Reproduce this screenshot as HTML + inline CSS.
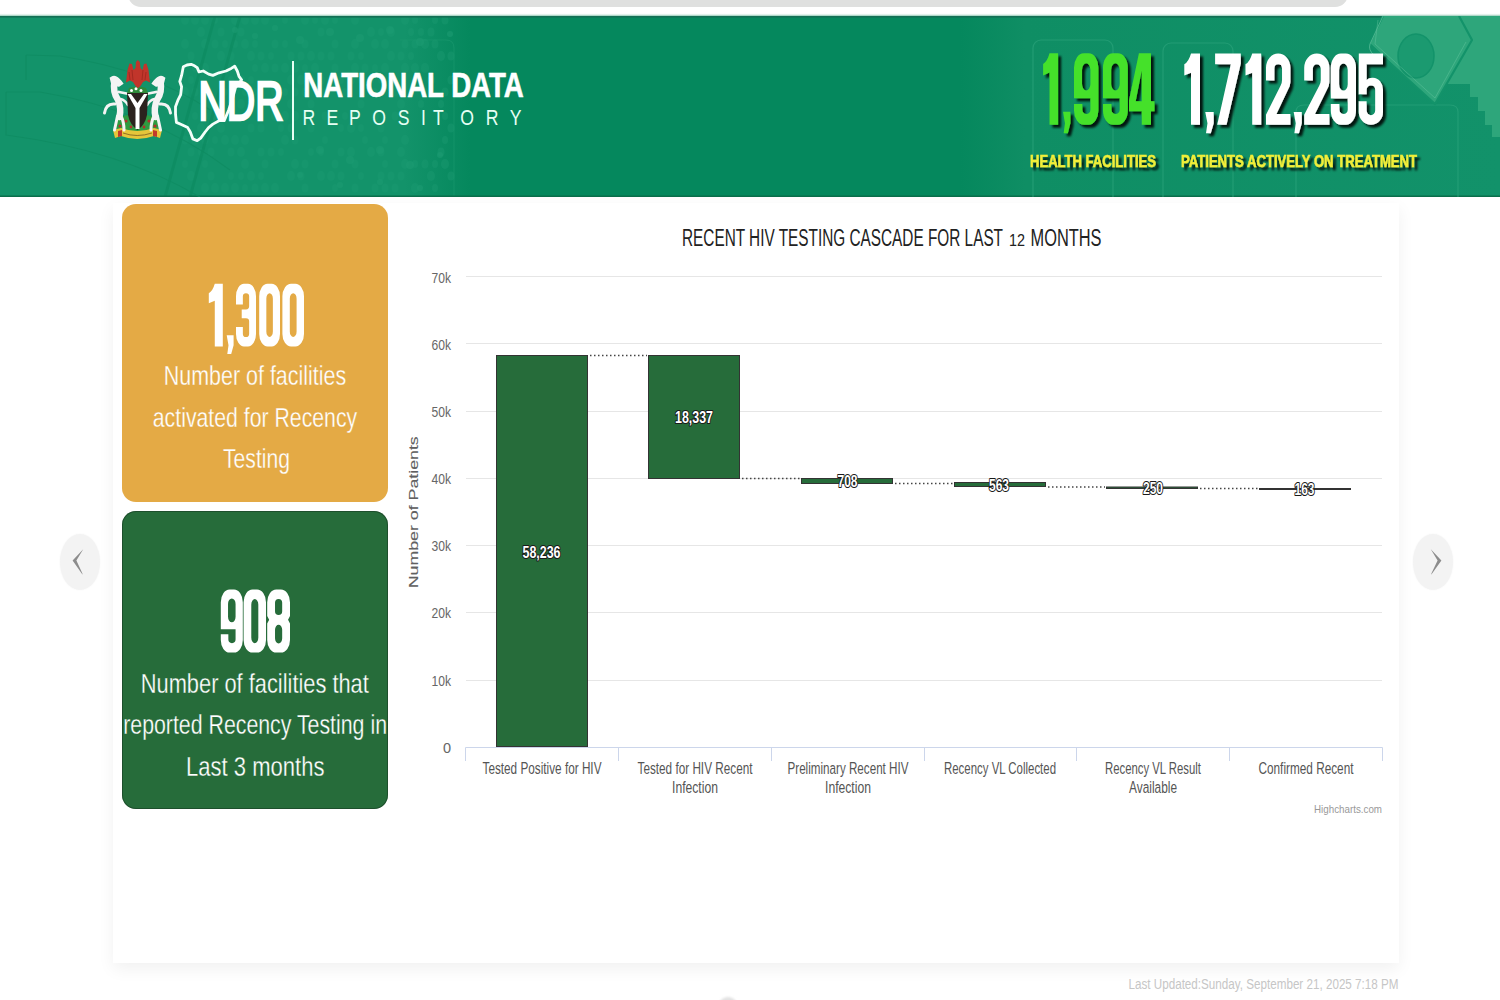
<!DOCTYPE html>
<html>
<head>
<meta charset="utf-8">
<style>
html,body{margin:0;padding:0;width:1500px;height:1000px;overflow:hidden;background:#ffffff;font-family:"Liberation Sans",sans-serif;}
.abs{position:absolute;}
#topbar{left:128px;top:-10px;width:1220px;height:17px;background:#dfe0df;border-radius:0 0 13px 13px;}
#header{left:0;top:17px;width:1500px;height:180px;background:#0c8d62;}
#panel{left:113px;top:203px;width:1286px;height:760px;background:#ffffff;box-shadow:0 6px 16px rgba(0,0,0,0.06);}
.card{position:absolute;left:122px;width:266px;border-radius:14px;}
#card1{top:204px;height:298px;background:#e4aa45;}
#card2{top:511px;height:298px;background:#266c3a;box-shadow:inset 0 0 0 1px rgba(20,50,30,0.5);}
.chev{position:absolute;width:40px;height:56px;border-radius:50%;background:#f3f3f3;box-shadow:0 0 2px #f3f3f3;}
svg{position:absolute;left:0;top:0;}
</style>
</head>
<body>
<div id="topbar" class="abs"></div>
<div id="header" class="abs"></div>
<div id="panel" class="abs"></div>
<div id="card1" class="card"></div>
<div id="card2" class="card"></div>
<div class="chev" style="left:60px;top:534px;"></div>
<div class="chev" style="left:1413px;top:534px;"></div>

<svg width="1500" height="1000" viewBox="0 0 1500 1000" font-family="Liberation Sans, sans-serif">
  <!-- header background overlays -->
  <defs>
    <linearGradient id="hg" x1="0" y1="0" x2="1" y2="0">
      <stop offset="0" stop-color="#14946a"/>
      <stop offset="0.36" stop-color="#14946a"/>
      <stop offset="0.42" stop-color="#098a5e"/>
      <stop offset="0.66" stop-color="#098a5e"/>
      <stop offset="0.72" stop-color="#11916a"/>
      <stop offset="1" stop-color="#14946a"/>
    </linearGradient>
    <filter id="shd" x="-10%" y="-10%" width="130%" height="140%">
      <feGaussianBlur in="SourceAlpha" stdDeviation="0.8"/>
      <feOffset dx="3" dy="3" result="o"/>
      <feComponentTransfer><feFuncA type="linear" slope="0.85"/></feComponentTransfer>
      <feMerge><feMergeNode/><feMergeNode in="SourceGraphic"/></feMerge>
    </filter>
  </defs>
  <clipPath id="hclip"><rect x="0" y="16" width="1500" height="181"/></clipPath>
  <linearGradient id="tsh" x1="0" y1="0" x2="0" y2="1"><stop offset="0" stop-color="#ffffff" stop-opacity="0"/><stop offset="1" stop-color="#8cc7b1"/></linearGradient>
  <rect x="0" y="13" width="1500" height="3" fill="url(#tsh)"/>
  <g clip-path="url(#hclip)">
  <rect x="0" y="16" width="1500" height="181" fill="#05885d"/>
  <linearGradient id="lg1" x1="0" y1="0" x2="1" y2="0"><stop offset="0" stop-color="#13936a"/><stop offset="0.86" stop-color="#13936a"/><stop offset="1" stop-color="#13936a" stop-opacity="0"/></linearGradient>
  <rect x="0" y="16" width="470" height="181" fill="url(#lg1)"/>
  <path d="M454 197 L454 48 Q454 40 446 40 L400 40" fill="none" stroke="#1c9a70" stroke-width="1" opacity="0.6"/>
  <linearGradient id="lg2" x1="0" y1="0" x2="1" y2="0"><stop offset="0" stop-color="#0e8d63" stop-opacity="0"/><stop offset="0.12" stop-color="#0f8e64"/><stop offset="1" stop-color="#12926a"/></linearGradient>
  <rect x="960" y="16" width="540" height="181" fill="url(#lg2)"/>
  <g fill="#1b9a71" opacity="0.45"><ellipse cx="185" cy="20" rx="4" ry="5"/><ellipse cx="195" cy="20" rx="4" ry="5"/><ellipse cx="205" cy="20" rx="4" ry="5"/><ellipse cx="215" cy="20" rx="3" ry="4"/><ellipse cx="235" cy="20" rx="4" ry="5"/><ellipse cx="245" cy="20" rx="4" ry="5"/><ellipse cx="255" cy="20" rx="4" ry="5"/><ellipse cx="265" cy="20" rx="4" ry="5"/><ellipse cx="285" cy="20" rx="3" ry="4"/><ellipse cx="305" cy="20" rx="4" ry="5"/><ellipse cx="315" cy="20" rx="3" ry="4"/><ellipse cx="325" cy="20" rx="4" ry="5"/><ellipse cx="335" cy="20" rx="3" ry="4"/><ellipse cx="355" cy="20" rx="4" ry="5"/><ellipse cx="405" cy="20" rx="4" ry="5"/><ellipse cx="415" cy="20" rx="3" ry="4"/><ellipse cx="435" cy="20" rx="3" ry="4"/><ellipse cx="445" cy="20" rx="3.5" ry="4.5"/><ellipse cx="201" cy="32" rx="4" ry="5"/><ellipse cx="221" cy="32" rx="3.5" ry="4.5"/><ellipse cx="241" cy="32" rx="3.5" ry="4.5"/><ellipse cx="321" cy="32" rx="3.5" ry="4.5"/><ellipse cx="371" cy="32" rx="4" ry="5"/><ellipse cx="381" cy="32" rx="3" ry="4"/><ellipse cx="391" cy="32" rx="4" ry="5"/><ellipse cx="411" cy="32" rx="3" ry="4"/><ellipse cx="421" cy="32" rx="3" ry="4"/><ellipse cx="431" cy="32" rx="3.5" ry="4.5"/><ellipse cx="185" cy="44" rx="4" ry="5"/><ellipse cx="205" cy="44" rx="4" ry="5"/><ellipse cx="215" cy="44" rx="3.5" ry="4.5"/><ellipse cx="225" cy="44" rx="3" ry="4"/><ellipse cx="235" cy="44" rx="3" ry="4"/><ellipse cx="245" cy="44" rx="4" ry="5"/><ellipse cx="255" cy="44" rx="3" ry="4"/><ellipse cx="275" cy="44" rx="3.5" ry="4.5"/><ellipse cx="285" cy="44" rx="3" ry="4"/><ellipse cx="305" cy="44" rx="3.5" ry="4.5"/><ellipse cx="335" cy="44" rx="3.5" ry="4.5"/><ellipse cx="355" cy="44" rx="4" ry="5"/><ellipse cx="375" cy="44" rx="4" ry="5"/><ellipse cx="385" cy="44" rx="4" ry="5"/><ellipse cx="405" cy="44" rx="3.5" ry="4.5"/><ellipse cx="415" cy="44" rx="3.5" ry="4.5"/><ellipse cx="425" cy="44" rx="4" ry="5"/><ellipse cx="435" cy="44" rx="3.5" ry="4.5"/><ellipse cx="191" cy="56" rx="3.5" ry="4.5"/><ellipse cx="221" cy="56" rx="4" ry="5"/><ellipse cx="231" cy="56" rx="3.5" ry="4.5"/><ellipse cx="251" cy="56" rx="4" ry="5"/><ellipse cx="261" cy="56" rx="3.5" ry="4.5"/><ellipse cx="271" cy="56" rx="3" ry="4"/><ellipse cx="291" cy="56" rx="3.5" ry="4.5"/><ellipse cx="301" cy="56" rx="3.5" ry="4.5"/><ellipse cx="311" cy="56" rx="4" ry="5"/><ellipse cx="321" cy="56" rx="3.5" ry="4.5"/><ellipse cx="331" cy="56" rx="3.5" ry="4.5"/><ellipse cx="351" cy="56" rx="3.5" ry="4.5"/><ellipse cx="361" cy="56" rx="3" ry="4"/><ellipse cx="391" cy="56" rx="4" ry="5"/><ellipse cx="401" cy="56" rx="3.5" ry="4.5"/><ellipse cx="411" cy="56" rx="3" ry="4"/><ellipse cx="441" cy="56" rx="4" ry="5"/><ellipse cx="451" cy="56" rx="3.5" ry="4.5"/><ellipse cx="195" cy="68" rx="3" ry="4"/><ellipse cx="205" cy="68" rx="4" ry="5"/><ellipse cx="235" cy="68" rx="3" ry="4"/><ellipse cx="255" cy="68" rx="3" ry="4"/><ellipse cx="265" cy="68" rx="4" ry="5"/><ellipse cx="275" cy="68" rx="3.5" ry="4.5"/><ellipse cx="285" cy="68" rx="4" ry="5"/><ellipse cx="295" cy="68" rx="4" ry="5"/><ellipse cx="305" cy="68" rx="3" ry="4"/><ellipse cx="315" cy="68" rx="4" ry="5"/><ellipse cx="335" cy="68" rx="3.5" ry="4.5"/><ellipse cx="355" cy="68" rx="4" ry="5"/><ellipse cx="365" cy="68" rx="3.5" ry="4.5"/><ellipse cx="375" cy="68" rx="3" ry="4"/><ellipse cx="385" cy="68" rx="4" ry="5"/><ellipse cx="405" cy="68" rx="4" ry="5"/><ellipse cx="415" cy="68" rx="4" ry="5"/><ellipse cx="425" cy="68" rx="4" ry="5"/><ellipse cx="191" cy="80" rx="3" ry="4"/><ellipse cx="231" cy="80" rx="3" ry="4"/><ellipse cx="241" cy="80" rx="4" ry="5"/><ellipse cx="251" cy="80" rx="3" ry="4"/><ellipse cx="291" cy="80" rx="4" ry="5"/><ellipse cx="301" cy="80" rx="4" ry="5"/><ellipse cx="311" cy="80" rx="4" ry="5"/><ellipse cx="321" cy="80" rx="4" ry="5"/><ellipse cx="331" cy="80" rx="4" ry="5"/><ellipse cx="341" cy="80" rx="3" ry="4"/><ellipse cx="351" cy="80" rx="4" ry="5"/><ellipse cx="361" cy="80" rx="3" ry="4"/><ellipse cx="371" cy="80" rx="3" ry="4"/><ellipse cx="381" cy="80" rx="3" ry="4"/><ellipse cx="391" cy="80" rx="3.5" ry="4.5"/><ellipse cx="431" cy="80" rx="4" ry="5"/><ellipse cx="451" cy="80" rx="3.5" ry="4.5"/><ellipse cx="185" cy="92" rx="4" ry="5"/><ellipse cx="195" cy="92" rx="3.5" ry="4.5"/><ellipse cx="205" cy="92" rx="3.5" ry="4.5"/><ellipse cx="225" cy="92" rx="3" ry="4"/><ellipse cx="245" cy="92" rx="3" ry="4"/><ellipse cx="255" cy="92" rx="3" ry="4"/><ellipse cx="275" cy="92" rx="4" ry="5"/><ellipse cx="285" cy="92" rx="3" ry="4"/><ellipse cx="295" cy="92" rx="3.5" ry="4.5"/><ellipse cx="305" cy="92" rx="3.5" ry="4.5"/><ellipse cx="325" cy="92" rx="3" ry="4"/><ellipse cx="345" cy="92" rx="3" ry="4"/><ellipse cx="375" cy="92" rx="3" ry="4"/><ellipse cx="395" cy="92" rx="3.5" ry="4.5"/><ellipse cx="425" cy="92" rx="3" ry="4"/><ellipse cx="445" cy="92" rx="3.5" ry="4.5"/><ellipse cx="211" cy="104" rx="4" ry="5"/><ellipse cx="221" cy="104" rx="3" ry="4"/><ellipse cx="231" cy="104" rx="4" ry="5"/><ellipse cx="241" cy="104" rx="4" ry="5"/><ellipse cx="251" cy="104" rx="3.5" ry="4.5"/><ellipse cx="261" cy="104" rx="3" ry="4"/><ellipse cx="291" cy="104" rx="4" ry="5"/><ellipse cx="311" cy="104" rx="3.5" ry="4.5"/><ellipse cx="361" cy="104" rx="3.5" ry="4.5"/><ellipse cx="401" cy="104" rx="4" ry="5"/><ellipse cx="421" cy="104" rx="3" ry="4"/><ellipse cx="441" cy="104" rx="3" ry="4"/><ellipse cx="195" cy="116" rx="3" ry="4"/><ellipse cx="205" cy="116" rx="3" ry="4"/><ellipse cx="215" cy="116" rx="3" ry="4"/><ellipse cx="275" cy="116" rx="4" ry="5"/><ellipse cx="285" cy="116" rx="4" ry="5"/><ellipse cx="295" cy="116" rx="4" ry="5"/><ellipse cx="325" cy="116" rx="3.5" ry="4.5"/><ellipse cx="345" cy="116" rx="3" ry="4"/><ellipse cx="355" cy="116" rx="3" ry="4"/><ellipse cx="375" cy="116" rx="4" ry="5"/><ellipse cx="395" cy="116" rx="3.5" ry="4.5"/><ellipse cx="445" cy="116" rx="3" ry="4"/><ellipse cx="201" cy="128" rx="4" ry="5"/><ellipse cx="221" cy="128" rx="4" ry="5"/><ellipse cx="251" cy="128" rx="3.5" ry="4.5"/><ellipse cx="261" cy="128" rx="3.5" ry="4.5"/><ellipse cx="281" cy="128" rx="3" ry="4"/><ellipse cx="291" cy="128" rx="3.5" ry="4.5"/><ellipse cx="311" cy="128" rx="3.5" ry="4.5"/><ellipse cx="341" cy="128" rx="3" ry="4"/><ellipse cx="351" cy="128" rx="4" ry="5"/><ellipse cx="361" cy="128" rx="3" ry="4"/><ellipse cx="381" cy="128" rx="3.5" ry="4.5"/><ellipse cx="451" cy="128" rx="3.5" ry="4.5"/><ellipse cx="185" cy="140" rx="3.5" ry="4.5"/><ellipse cx="195" cy="140" rx="4" ry="5"/><ellipse cx="205" cy="140" rx="3.5" ry="4.5"/><ellipse cx="215" cy="140" rx="3" ry="4"/><ellipse cx="225" cy="140" rx="4" ry="5"/><ellipse cx="235" cy="140" rx="4" ry="5"/><ellipse cx="245" cy="140" rx="4" ry="5"/><ellipse cx="285" cy="140" rx="4" ry="5"/><ellipse cx="295" cy="140" rx="3.5" ry="4.5"/><ellipse cx="325" cy="140" rx="3" ry="4"/><ellipse cx="365" cy="140" rx="3" ry="4"/><ellipse cx="385" cy="140" rx="3" ry="4"/><ellipse cx="405" cy="140" rx="4" ry="5"/><ellipse cx="445" cy="140" rx="3" ry="4"/><ellipse cx="191" cy="152" rx="3.5" ry="4.5"/><ellipse cx="201" cy="152" rx="3" ry="4"/><ellipse cx="211" cy="152" rx="3.5" ry="4.5"/><ellipse cx="231" cy="152" rx="3.5" ry="4.5"/><ellipse cx="241" cy="152" rx="4" ry="5"/><ellipse cx="261" cy="152" rx="3.5" ry="4.5"/><ellipse cx="271" cy="152" rx="3.5" ry="4.5"/><ellipse cx="281" cy="152" rx="3" ry="4"/><ellipse cx="311" cy="152" rx="3" ry="4"/><ellipse cx="321" cy="152" rx="3" ry="4"/><ellipse cx="341" cy="152" rx="3.5" ry="4.5"/><ellipse cx="351" cy="152" rx="4" ry="5"/><ellipse cx="371" cy="152" rx="4" ry="5"/><ellipse cx="381" cy="152" rx="3.5" ry="4.5"/><ellipse cx="401" cy="152" rx="4" ry="5"/><ellipse cx="441" cy="152" rx="3.5" ry="4.5"/><ellipse cx="185" cy="164" rx="3" ry="4"/><ellipse cx="205" cy="164" rx="3" ry="4"/><ellipse cx="245" cy="164" rx="4" ry="5"/><ellipse cx="265" cy="164" rx="3.5" ry="4.5"/><ellipse cx="295" cy="164" rx="4" ry="5"/><ellipse cx="305" cy="164" rx="3.5" ry="4.5"/><ellipse cx="335" cy="164" rx="3.5" ry="4.5"/><ellipse cx="355" cy="164" rx="3.5" ry="4.5"/><ellipse cx="385" cy="164" rx="3" ry="4"/><ellipse cx="405" cy="164" rx="4" ry="5"/><ellipse cx="415" cy="164" rx="3" ry="4"/><ellipse cx="425" cy="164" rx="3.5" ry="4.5"/><ellipse cx="435" cy="164" rx="3" ry="4"/><ellipse cx="445" cy="164" rx="4" ry="5"/><ellipse cx="191" cy="176" rx="4" ry="5"/><ellipse cx="211" cy="176" rx="3.5" ry="4.5"/><ellipse cx="231" cy="176" rx="3" ry="4"/><ellipse cx="241" cy="176" rx="3" ry="4"/><ellipse cx="251" cy="176" rx="4" ry="5"/><ellipse cx="261" cy="176" rx="3" ry="4"/><ellipse cx="291" cy="176" rx="4" ry="5"/><ellipse cx="301" cy="176" rx="3.5" ry="4.5"/><ellipse cx="321" cy="176" rx="4" ry="5"/><ellipse cx="331" cy="176" rx="4" ry="5"/><ellipse cx="341" cy="176" rx="3.5" ry="4.5"/><ellipse cx="361" cy="176" rx="3" ry="4"/><ellipse cx="381" cy="176" rx="3.5" ry="4.5"/><ellipse cx="391" cy="176" rx="3.5" ry="4.5"/><ellipse cx="401" cy="176" rx="3.5" ry="4.5"/><ellipse cx="431" cy="176" rx="4" ry="5"/><ellipse cx="451" cy="176" rx="3.5" ry="4.5"/><ellipse cx="205" cy="188" rx="4" ry="5"/><ellipse cx="215" cy="188" rx="4" ry="5"/><ellipse cx="225" cy="188" rx="4" ry="5"/><ellipse cx="235" cy="188" rx="4" ry="5"/><ellipse cx="245" cy="188" rx="3" ry="4"/><ellipse cx="255" cy="188" rx="3.5" ry="4.5"/><ellipse cx="265" cy="188" rx="4" ry="5"/><ellipse cx="275" cy="188" rx="4" ry="5"/><ellipse cx="305" cy="188" rx="3.5" ry="4.5"/><ellipse cx="335" cy="188" rx="3" ry="4"/><ellipse cx="355" cy="188" rx="3.5" ry="4.5"/><ellipse cx="375" cy="188" rx="3.5" ry="4.5"/><ellipse cx="385" cy="188" rx="3.5" ry="4.5"/><ellipse cx="395" cy="188" rx="3.5" ry="4.5"/><ellipse cx="415" cy="188" rx="4" ry="5"/><ellipse cx="435" cy="188" rx="3" ry="4"/><ellipse cx="191" cy="200" rx="3" ry="4"/><ellipse cx="221" cy="200" rx="3" ry="4"/><ellipse cx="231" cy="200" rx="3" ry="4"/><ellipse cx="251" cy="200" rx="3" ry="4"/><ellipse cx="271" cy="200" rx="3.5" ry="4.5"/><ellipse cx="291" cy="200" rx="3.5" ry="4.5"/><ellipse cx="301" cy="200" rx="3.5" ry="4.5"/><ellipse cx="311" cy="200" rx="3.5" ry="4.5"/><ellipse cx="321" cy="200" rx="4" ry="5"/><ellipse cx="331" cy="200" rx="3" ry="4"/><ellipse cx="341" cy="200" rx="3" ry="4"/><ellipse cx="361" cy="200" rx="3.5" ry="4.5"/><ellipse cx="371" cy="200" rx="3.5" ry="4.5"/><ellipse cx="391" cy="200" rx="3" ry="4"/><ellipse cx="411" cy="200" rx="3.5" ry="4.5"/><ellipse cx="421" cy="200" rx="3.5" ry="4.5"/><ellipse cx="431" cy="200" rx="3" ry="4"/><ellipse cx="441" cy="200" rx="3" ry="4"/></g>
  <g stroke="#0c8a5f" stroke-width="3" opacity="0.6">
    <line x1="215" y1="16" x2="165" y2="197"/><line x1="240" y1="16" x2="190" y2="197"/>
  </g>
  <rect x="0" y="195.5" width="1500" height="1.5" fill="#0a6e4b"/>
  <rect x="0" y="16" width="1500" height="1.6" fill="#137055"/>
  <!-- faint arcs left -->
  <g fill="none" stroke="#0f8c62" stroke-width="1.2" opacity="0.8">
    <path d="M26 55 L60 56 Q150 70 210 110"/>
    <path d="M6 92 L40 92 Q150 110 230 170"/>
    <path d="M6 92 L6 135 Q120 150 200 197"/>
    <path d="M26 55 L26 80"/>
  </g>
  <!-- faint dotted texture region -->
  <g fill="#1c9b72" opacity="0.6">
    <circle cx="235" cy="30" r="3"/><circle cx="255" cy="36" r="3"/><circle cx="275" cy="28" r="3"/>
    <circle cx="300" cy="40" r="4"/><circle cx="330" cy="32" r="4"/><circle cx="360" cy="38" r="4"/>
    <circle cx="390" cy="30" r="4"/><circle cx="420" cy="42" r="4"/><circle cx="450" cy="34" r="3"/>
    <circle cx="320" cy="150" r="4"/><circle cx="350" cy="160" r="4"/><circle cx="380" cy="150" r="4"/>
    <circle cx="410" cy="165" r="4"/><circle cx="440" cy="155" r="3"/><circle cx="300" cy="175" r="3"/>
    <circle cx="340" cy="185" r="3"/><circle cx="380" cy="182" r="3"/><circle cx="420" cy="188" r="3"/>
  </g>
  <g fill="none" stroke="#2aa27a" stroke-width="1.2" opacity="0.7">
    
    <rect x="1033" y="40" width="80" height="170" rx="8"/>
    <rect x="1163" y="43" width="70" height="170" rx="8"/>
    <path d="M1296 200 L1296 112 Q1296 105 1304 105 L1450 105 Q1458 105 1458 112 L1458 200"/>
  </g>
  <!-- top-right lighter shape -->
  <path d="M1383 16 L1500 16 L1500 137 L1492 137 L1492 125 L1485 125 L1485 111 L1478 111 L1478 97 L1470 97 L1470 84 L1447 84 L1435 104 L1370 43 Z" fill="#2ea67b"/>
  <ellipse cx="1416" cy="56" rx="18" ry="22" fill="#1b9a70" stroke="#13936a" stroke-width="1.5"/>
  <path d="M1383 16 L1369 44 L1435 104 L1472 40 L1459 16" fill="none" stroke="#13936a" stroke-width="2.2" stroke-linejoin="round"/>
  <path d="M1378 20 L1375 44 L1435 98 L1466 42" fill="none" stroke="#6fcaa6" stroke-width="0.8" opacity="0.5"/>
  <path d="M1383 16 L1370 44 Q1368 50 1374 55" fill="none" stroke="#6fcaa6" stroke-width="1" opacity="0.6"/>
  </g>

  <!-- coat of arms -->
  <g id="coa">
    <!-- green base -->
    <path d="M116 120 Q126 113 137 116 Q148 113 159 120 L158 132 Q137 137 117 132 Z" fill="#2e9b40"/>
    <g fill="#b3302b"><circle cx="120" cy="126" r="1.6"/><circle cx="126" cy="121" r="1.6"/><circle cx="149" cy="121" r="1.6"/><circle cx="155" cy="126" r="1.6"/><circle cx="131" cy="127" r="1.4"/><circle cx="144" cy="127" r="1.4"/></g>
    <!-- banner -->
    <path d="M113 130 L121 128 Q137 134 154 128 L162 130 L160 138 L154 136 Q137 142 121 136 L115 138 Z" fill="#e6c53a"/>
    <path d="M118 131 L122 130 L122 136 L118 137 Z M153 130 L157 131 L157 137 L153 136 Z" fill="#c23a2c"/>
    <path d="M123 133 Q137 138 152 133" stroke="#7a5a20" stroke-width="0.8" fill="none"/>
    <!-- horses -->
    <g stroke="#f4f4f4" fill="none" stroke-linecap="round">
      <path d="M110.5 78 Q116 73.5 122.5 83.5 L119 86 Q115 85 113 88 Z" fill="#f4f4f4" stroke-width="1.6"/>
      <path d="M114.5 81 Q112.5 92 118 100 Q121.5 108 119.5 117" stroke-width="6.5"/>
      <path d="M119 92 L129 94" stroke-width="2.8"/>
      <path d="M120.5 99 Q125 100 128 105" stroke-width="2.6"/>
      <path d="M117.5 116 L114.5 130" stroke-width="3"/>
      <path d="M121 116 Q124 122 124 130" stroke-width="3"/>
      <path d="M115 104 Q106 103 104.5 113" stroke-width="3"/>
    </g>
    <g transform="translate(275,0) scale(-1,1)"><g stroke="#f4f4f4" fill="none" stroke-linecap="round">
      <path d="M110.5 78 Q116 73.5 122.5 83.5 L119 86 Q115 85 113 88 Z" fill="#f4f4f4" stroke-width="1.6"/>
      <path d="M114.5 81 Q112.5 92 118 100 Q121.5 108 119.5 117" stroke-width="6.5"/>
      <path d="M119 92 L129 94" stroke-width="2.8"/>
      <path d="M120.5 99 Q125 100 128 105" stroke-width="2.6"/>
      <path d="M117.5 116 L114.5 130" stroke-width="3"/>
      <path d="M121 116 Q124 122 124 130" stroke-width="3"/>
      <path d="M115 104 Q106 103 104.5 113" stroke-width="3"/>
    </g></g>
    <!-- shield -->
    <path d="M127 93 Q137.5 91 148 93 L147 115 Q145 125 137.5 130 Q130 125 128 115 Z" fill="#2b221e"/>
    <path d="M127.5 94 L131 94 L137.5 103 L144 94 L147.5 94 L139.5 108 L139.5 129 L135.5 129 L135.5 108 Z" fill="#ffffff"/>
    <!-- wreath -->
    <path d="M129 88 Q137.5 85 146 88 L148 93 L127 93 Z" fill="#2f8a3a"/>
    <g fill="#ffffff"><circle cx="131.5" cy="90.5" r="1.5"/><circle cx="136" cy="88.8" r="1.5"/><circle cx="141" cy="90.5" r="1.5"/></g>
    <!-- eagle -->
    <path d="M137.8 60 L139.8 62 L140.5 68 L142.5 70 L144 64 L146.5 63.5 L148.5 70 L150 82.5 L146 80.5 L143 82 L140.5 86 L138 88 L135.5 86 L133 82 L130 80.5 L126 82.5 L127.5 70 L129.5 63.5 L132 64 L133.5 70 L135.5 68 L136 62 Z" fill="#c1352b"/>
    <path d="M129 72 L130 80 M132 70 L133 80 M146 72 L145 80 M143 70 L142 80" stroke="#8e2219" stroke-width="0.6"/>
  </g>

  <!-- Nigeria outline -->
  <path d="M183.3 66.7 L187 65 L191.1 64.3 L194.5 65.8 L197.2 67.6 L199 71.9 L203.3 71 L208.6 74.1 L212.9 75.4 L219 72.8 L226 71 L231.2 68.4 L234.7 66.3 L237.3 71 L239 76.3 L241.6 79.8 L235.5 87.6 L232.9 97.2 L228.6 110.2 L224.2 120.7 L219 120.7 L212.9 124.1 L208.6 127.6 L205.1 132 L200.7 138.1 L197.2 140.7 L192.9 138.9 L190.3 132 L187.7 127.6 L182.4 125 L176.4 122.4 L175.5 114 L175.5 106.7 L178.1 99.8 L180.7 94.6 L181.6 86.7 L179.8 81.5 L181.6 75.4 Z" fill="none" stroke="#f4fffa" stroke-width="2.8" stroke-linejoin="round"/>

  <!-- header texts -->
  <g id="hdr">
    <text x="198.5" y="120" font-size="55" fill="#fff" stroke="#fff" stroke-width="2.6" textLength="85" lengthAdjust="spacingAndGlyphs">NDR</text>
    <rect x="292" y="61" width="2" height="79" fill="#e8fff4"/>
    <text x="303.3" y="96.8" font-size="34.3" font-weight="bold" fill="#fff" stroke="#fff" stroke-width="0.6" textLength="220.5" lengthAdjust="spacingAndGlyphs">NATIONAL DATA</text>
    <text transform="scale(0.82,1)" x="369.0 398.3 425.6 453.9 485.1 513.4 528.0 561.2 592.4 621.7" y="125.1" font-size="21.5" fill="#e6fff4">REPOSITORY</text>

    <g filter="url(#shd)">
    <g fill="#44e12c" fill-rule="evenodd" ><path transform="translate(1043.10 53.30) scale(0.6818 0.7140)" d="M9.4 0 H22 V100 H9.4 V27 L0 31 V15 Q6 12 9.4 0 Z"/><path transform="translate(1062.70 53.30) scale(0.6417 0.7140)" d="M0.5 82 H12 V98 L8 112 H1.5 L3.5 98 Z"/><path transform="translate(1074.00 53.30) scale(0.6971 0.7140)" d="M14 0 H21 A14 20 0 0 1 35 20 V80 A14 20 0 0 1 21 100 H14 A14 20 0 0 1 0 80 V20 A14 20 0 0 1 14 0 Z M17.5 14 H17.5 A6 9 0 0 1 23.5 23 V43 A6 9 0 0 1 17.5 52 H17.5 A6 9 0 0 1 11.5 43 V23 A6 9 0 0 1 17.5 14 Z M0 63 H23.5 V79 A5.75 6 0 0 1 12 79 V71 H0 Z"/><path transform="translate(1103.00 53.30) scale(0.7086 0.7140)" d="M14 0 H21 A14 20 0 0 1 35 20 V80 A14 20 0 0 1 21 100 H14 A14 20 0 0 1 0 80 V20 A14 20 0 0 1 14 0 Z M17.5 14 H17.5 A6 9 0 0 1 23.5 23 V43 A6 9 0 0 1 17.5 52 H17.5 A6 9 0 0 1 11.5 43 V23 A6 9 0 0 1 17.5 14 Z M0 63 H23.5 V79 A5.75 6 0 0 1 12 79 V71 H0 Z"/><path transform="translate(1129.00 53.30) scale(0.7083 0.7140)" d="M14 0 H31 V67 H36 V81 H31 V100 H18 V81 H0 V66 Z M18 24 V67 H9.5 Z"/></g>
    <g fill="#ffffff" fill-rule="evenodd" ><path transform="translate(1184.30 53.50) scale(0.7136 0.7130)" d="M9.4 0 H22 V100 H9.4 V27 L0 31 V15 Q6 12 9.4 0 Z"/><path transform="translate(1204.90 53.50) scale(0.7333 0.7130)" d="M0.5 82 H12 V98 L8 112 H1.5 L3.5 98 Z"/><path transform="translate(1215.10 53.50) scale(0.7139 0.7130)" d="M0 0 H36 V14 L16 100 H3 L22 15 H0 Z"/><path transform="translate(1245.50 53.50) scale(0.7136 0.7130)" d="M9.4 0 H22 V100 H9.4 V27 L0 31 V15 Q6 12 9.4 0 Z"/><path transform="translate(1266.00 53.50) scale(0.6971 0.7130)" d="M0 20 A17.5 20 0 0 1 35 20 V40 Q35 46 31 52 L15 85 H35 V100 H0 V86 L21 45 Q23 41 23 37 V21 A5.5 6 0 0 0 12 21 V38 H0 Z"/><path transform="translate(1293.30 53.50) scale(0.7083 0.7130)" d="M0.5 82 H12 V98 L8 112 H1.5 L3.5 98 Z"/><path transform="translate(1304.20 53.50) scale(0.7200 0.7130)" d="M0 20 A17.5 20 0 0 1 35 20 V40 Q35 46 31 52 L15 85 H35 V100 H0 V86 L21 45 Q23 41 23 37 V21 A5.5 6 0 0 0 12 21 V38 H0 Z"/><path transform="translate(1330.80 53.50) scale(0.7200 0.7130)" d="M14 0 H21 A14 20 0 0 1 35 20 V80 A14 20 0 0 1 21 100 H14 A14 20 0 0 1 0 80 V20 A14 20 0 0 1 14 0 Z M17.5 14 H17.5 A6 9 0 0 1 23.5 23 V43 A6 9 0 0 1 17.5 52 H17.5 A6 9 0 0 1 11.5 43 V23 A6 9 0 0 1 17.5 14 Z M0 63 H23.5 V79 A5.75 6 0 0 1 12 79 V71 H0 Z"/><path transform="translate(1358.80 53.50) scale(0.7118 0.7130)" d="M0 0 H34 V15 H11 V37 Q14 34 19 34 H20 A14 17 0 0 1 34 51 V82 A17 18 0 0 1 17 100 A17 18 0 0 1 0 82 V67 H11 V80 A5.5 6 0 0 0 23 80 V51 A5.5 6 0 0 0 17.5 45 A5.5 6 0 0 0 11 51 V57 H0 Z"/></g>
    <text x="1030" y="167.4" font-size="16.5" font-weight="bold" fill="#f2ee3a" stroke="#f2ee3a" stroke-width="0.5" textLength="126" lengthAdjust="spacingAndGlyphs">HEALTH FACILITIES</text>
    <text x="1181" y="167.4" font-size="16.5" font-weight="bold" fill="#f2ee3a" stroke="#f2ee3a" stroke-width="0.5" textLength="236" lengthAdjust="spacingAndGlyphs">PATIENTS ACTIVELY ON TREATMENT</text>
    </g>
  </g>

  <!-- cards text -->
  <g fill="#ffffff" text-anchor="start">
    <g fill="#ffffff" fill-rule="evenodd" ><path transform="translate(208.80 283.80) scale(0.6364 0.6260)" d="M9.4 0 H22 V100 H9.4 V27 L0 31 V15 Q6 12 9.4 0 Z"/><path transform="translate(226.40 283.80) scale(0.6000 0.6260)" d="M0.5 82 H12 V98 L8 112 H1.5 L3.5 98 Z"/><path transform="translate(236.00 283.80) scale(0.5714 0.6260)" d="M14 0 H21 A14 20 0 0 1 35 20 V80 A14 20 0 0 1 21 100 H14 A14 20 0 0 1 0 80 V20 A14 20 0 0 1 14 0 Z M0 33 H12 V20 A5.5 5 0 0 1 23 20 V36 A5.5 5 0 0 1 17.5 41 H10 V55 H17.5 A5.5 5 0 0 1 23 60 V80 A5.5 5 0 0 1 17.5 85 A5.5 5 0 0 1 12 80 V69 H0 Z"/><path transform="translate(259.20 283.80) scale(0.5943 0.6260)" d="M14 0 H21 A14 20 0 0 1 35 20 V80 A14 20 0 0 1 21 100 H14 A14 20 0 0 1 0 80 V20 A14 20 0 0 1 14 0 Z M17.5 15 H17.5 A5.5 9 0 0 1 23 24 V76 A5.5 9 0 0 1 17.5 85 H17.5 A5.5 9 0 0 1 12 76 V24 A5.5 9 0 0 1 17.5 15 Z"/><path transform="translate(282.40 283.80) scale(0.6171 0.6260)" d="M14 0 H21 A14 20 0 0 1 35 20 V80 A14 20 0 0 1 21 100 H14 A14 20 0 0 1 0 80 V20 A14 20 0 0 1 14 0 Z M17.5 15 H17.5 A5.5 9 0 0 1 23 24 V76 A5.5 9 0 0 1 17.5 85 H17.5 A5.5 9 0 0 1 12 76 V24 A5.5 9 0 0 1 17.5 15 Z"/></g>
    <text x="163.80" y="385.1" font-size="27.5" stroke="#e4aa45" stroke-width="0.3" textLength="182.40" lengthAdjust="spacingAndGlyphs">Number of facilities</text>
    <text x="152.80" y="427.2" font-size="27.5" stroke="#e4aa45" stroke-width="0.3" textLength="204.40" lengthAdjust="spacingAndGlyphs">activated for Recency</text>
    <text x="223.00" y="468.1" font-size="27.5" stroke="#e4aa45" stroke-width="0.3" textLength="67.00" lengthAdjust="spacingAndGlyphs">Testing</text>

    <g fill="#ffffff" fill-rule="evenodd" ><path transform="translate(220.80 589.60) scale(0.6286 0.6300)" d="M14 0 H21 A14 20 0 0 1 35 20 V80 A14 20 0 0 1 21 100 H14 A14 20 0 0 1 0 80 V20 A14 20 0 0 1 14 0 Z M17.5 14 H17.5 A6 9 0 0 1 23.5 23 V43 A6 9 0 0 1 17.5 52 H17.5 A6 9 0 0 1 11.5 43 V23 A6 9 0 0 1 17.5 14 Z M0 63 H23.5 V79 A5.75 6 0 0 1 12 79 V71 H0 Z"/><path transform="translate(243.60 589.60) scale(0.6400 0.6300)" d="M14 0 H21 A14 20 0 0 1 35 20 V80 A14 20 0 0 1 21 100 H14 A14 20 0 0 1 0 80 V20 A14 20 0 0 1 14 0 Z M17.5 15 H17.5 A5.5 9 0 0 1 23 24 V76 A5.5 9 0 0 1 17.5 85 H17.5 A5.5 9 0 0 1 12 76 V24 A5.5 9 0 0 1 17.5 15 Z"/><path transform="translate(267.20 589.60) scale(0.6514 0.6300)" d="M14 0 H21 A14 20 0 0 1 35 20 V80 A14 20 0 0 1 21 100 H14 A14 20 0 0 1 0 80 V20 A14 20 0 0 1 14 0 Z M17.5 15 H17.5 A5.5 6 0 0 1 23 21 V34.5 A5.5 6 0 0 1 17.5 40.5 H17.5 A5.5 6 0 0 1 12 34.5 V21 A5.5 6 0 0 1 17.5 15 Z M17.5 55.7 H17.5 A5.5 8 0 0 1 23 63.7 V77.4 A5.5 8 0 0 1 17.5 85.4 H17.5 A5.5 8 0 0 1 12 77.4 V63.7 A5.5 8 0 0 1 17.5 55.7 Z M0 42 L3 48 L0 54 Z M35 42 L32 48 L35 54 Z"/></g>
    <text x="140.80" y="692.5" font-size="27.5" stroke="#266c3a" stroke-width="0.3" textLength="228.00" lengthAdjust="spacingAndGlyphs">Number of facilities that</text>
    <text x="123.20" y="733.8" font-size="27.5" stroke="#266c3a" stroke-width="0.3" textLength="263.80" lengthAdjust="spacingAndGlyphs">reported Recency Testing in</text>
    <text x="186.10" y="775.9" font-size="27.5" stroke="#266c3a" stroke-width="0.3" textLength="138.30" lengthAdjust="spacingAndGlyphs">Last 3 months</text>
  </g>

  <!-- chart -->
  <g id="chart">
    <text x="682" y="246" font-size="23.5" fill="#222222" textLength="321" lengthAdjust="spacingAndGlyphs">RECENT HIV TESTING CASCADE FOR LAST</text>
    <text x="1009" y="246" font-size="17" fill="#222222" textLength="16" lengthAdjust="spacingAndGlyphs">12</text>
    <text x="1030.5" y="246" font-size="23.5" fill="#222222" textLength="71" lengthAdjust="spacingAndGlyphs">MONTHS</text>
    <g stroke="#e6e6e6" stroke-width="1">
      <line x1="466" y1="276.5" x2="1382" y2="276.5"/>
      <line x1="466" y1="343.5" x2="1382" y2="343.5"/>
      <line x1="466" y1="411.5" x2="1382" y2="411.5"/>
      <line x1="466" y1="478.5" x2="1382" y2="478.5"/>
      <line x1="466" y1="545.5" x2="1382" y2="545.5"/>
      <line x1="466" y1="612.5" x2="1382" y2="612.5"/>
      <line x1="466" y1="680.5" x2="1382" y2="680.5"/>
    </g>
    <g font-size="14.5" fill="#666666" text-anchor="end">
      <text x="451" y="282.5" textLength="19.5" lengthAdjust="spacingAndGlyphs">70k</text>
      <text x="451" y="349.5" textLength="19.5" lengthAdjust="spacingAndGlyphs">60k</text>
      <text x="451" y="417" textLength="19.5" lengthAdjust="spacingAndGlyphs">50k</text>
      <text x="451" y="484" textLength="19.5" lengthAdjust="spacingAndGlyphs">40k</text>
      <text x="451" y="551" textLength="19.5" lengthAdjust="spacingAndGlyphs">30k</text>
      <text x="451" y="618" textLength="19.5" lengthAdjust="spacingAndGlyphs">20k</text>
      <text x="451" y="686" textLength="19.5" lengthAdjust="spacingAndGlyphs">10k</text>
      <text x="451" y="753">0</text>
    </g>
    <text transform="translate(417.6,588.3) rotate(-90)" font-size="12" fill="#606060" stroke="#606060" stroke-width="0.1" textLength="152" lengthAdjust="spacingAndGlyphs">Number of Patients</text>
    <!-- axis -->
    <g stroke="#ccd6eb" stroke-width="1">
      <line x1="465.5" y1="747.5" x2="1382.5" y2="747.5"/>
      <line x1="465.5" y1="747.5" x2="465.5" y2="761"/>
      <line x1="618.5" y1="747.5" x2="618.5" y2="761"/>
      <line x1="771.5" y1="747.5" x2="771.5" y2="761"/>
      <line x1="924.5" y1="747.5" x2="924.5" y2="761"/>
      <line x1="1076.5" y1="747.5" x2="1076.5" y2="761"/>
      <line x1="1229.5" y1="747.5" x2="1229.5" y2="761"/>
      <line x1="1382.5" y1="747.5" x2="1382.5" y2="761"/>
    </g>
    <!-- bars -->
    <g fill="#266c3a" stroke="#333333" stroke-width="1">
      <rect x="496.5" y="355.5" width="91" height="391"/>
      <rect x="648.5" y="355.5" width="91" height="123"/>
      <rect x="801.5" y="478.5" width="91" height="5"/>
      <rect x="954.5" y="482.5" width="91" height="4"/>
      <rect x="1106.5" y="487" width="91" height="1.5"/>
      <rect x="1259.5" y="488.5" width="91" height="1"/>
    </g>
    <g stroke="#444" stroke-width="1.3" stroke-dasharray="1.5 2.5">
      <line x1="590" y1="355.5" x2="647" y2="355.5"/>
      <line x1="742" y1="478.5" x2="800" y2="478.5"/>
      <line x1="895" y1="483.5" x2="953" y2="483.5"/>
      <line x1="1048" y1="487" x2="1105" y2="487"/>
      <line x1="1200" y1="488.5" x2="1258" y2="488.5"/>
    </g>
    <!-- data labels -->
    <g font-size="16.5" font-weight="bold" fill="#ffffff" stroke="#1a1a1a" stroke-width="2.2" paint-order="stroke" text-anchor="middle" stroke-linejoin="round">
      <text x="541.5" y="557.5" textLength="38" lengthAdjust="spacingAndGlyphs">58,236</text>
      <text x="694" y="423.2" textLength="38" lengthAdjust="spacingAndGlyphs">18,337</text>
      <text x="847.5" y="487" textLength="20" lengthAdjust="spacingAndGlyphs">708</text>
      <text x="999" y="491" textLength="20" lengthAdjust="spacingAndGlyphs">563</text>
      <text x="1153" y="494" textLength="20" lengthAdjust="spacingAndGlyphs">250</text>
      <text x="1304.5" y="495" textLength="20" lengthAdjust="spacingAndGlyphs">163</text>
    </g>
    <!-- category labels -->
    <g font-size="16.3" fill="#555555" text-anchor="middle">
      <text x="542" y="773.7" textLength="119" lengthAdjust="spacingAndGlyphs">Tested Positive for HIV</text>
      <text x="695" y="773.7" textLength="115" lengthAdjust="spacingAndGlyphs">Tested for HIV Recent</text>
      <text x="695" y="793.4" textLength="46" lengthAdjust="spacingAndGlyphs">Infection</text>
      <text x="848" y="773.7" textLength="121" lengthAdjust="spacingAndGlyphs">Preliminary Recent HIV</text>
      <text x="848" y="793.4" textLength="46" lengthAdjust="spacingAndGlyphs">Infection</text>
      <text x="1000" y="773.7" textLength="112" lengthAdjust="spacingAndGlyphs">Recency VL Collected</text>
      <text x="1153" y="773.7" textLength="96" lengthAdjust="spacingAndGlyphs">Recency VL Result</text>
      <text x="1153" y="793.4" textLength="48" lengthAdjust="spacingAndGlyphs">Available</text>
      <text x="1306" y="773.7" textLength="95" lengthAdjust="spacingAndGlyphs">Confirmed Recent</text>
    </g>
    <text x="1382" y="813" font-size="11" fill="#999999" text-anchor="end" textLength="68" lengthAdjust="spacingAndGlyphs">Highcharts.com</text>
  </g>

  <!-- chevrons -->
  <path d="M83.2 549.3 L72.6 560.6 L82.6 574.8 L82.3 573.2 L76.4 560.6 Z" fill="#8c8c8c"/>
  <path d="M1430.8 549.3 L1441.4 560.6 L1431.2 574.8 L1431.5 573.2 L1437.6 560.6 Z" fill="#8c8c8c"/>

  <circle cx="728" cy="1007" r="10" fill="#e2e2e2" filter="url(#bl1)"/>
  <defs><filter id="bl1"><feGaussianBlur stdDeviation="1.2"/></filter></defs>
  <text x="1128.5" y="988.8" font-size="15.2" fill="#c6c6c6" textLength="270" lengthAdjust="spacingAndGlyphs">Last Updated:Sunday, September 21, 2025 7:18 PM</text>
</svg>
</body>
</html>
